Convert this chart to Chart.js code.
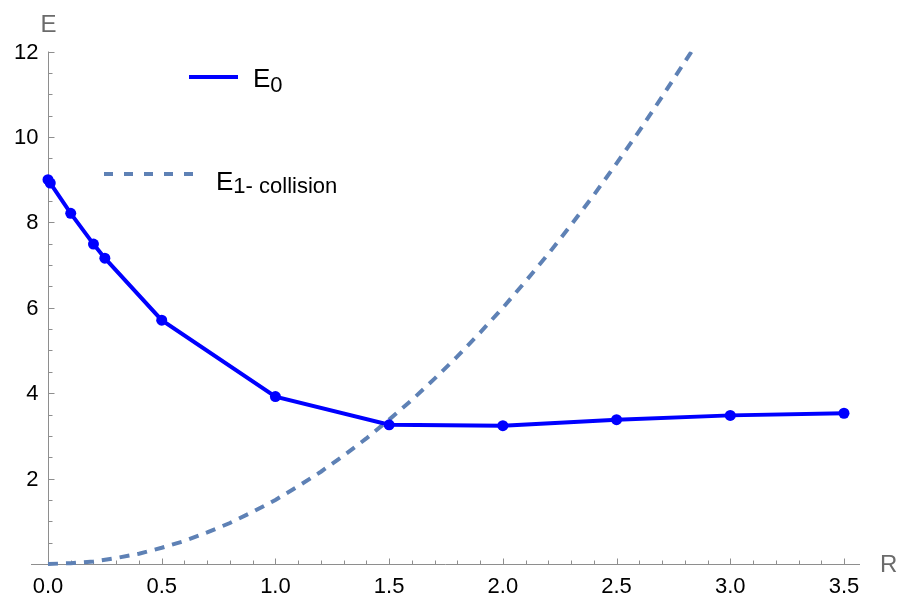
<!DOCTYPE html>
<html><head><meta charset="utf-8">
<style>html,body{margin:0;padding:0;background:#fff}canvas{display:block}</style>
<script src="https://cdn.jsdelivr.net/npm/chart.js@4/dist/chart.umd.min.js"></script>
</head><body>
<canvas id="c" width="898" height="599" style="width:898px;height:599px"></canvas>
<script>
// ---- data ----
const rE0 = [0, 0.01, 0.1, 0.2, 0.25, 0.5, 1.0, 1.5, 2.0, 2.5, 3.0, 3.5];
const e0  = [9.0, 8.92, 8.21, 7.49, 7.16, 5.71, 3.92, 3.26, 3.24, 3.38, 3.48, 3.53];
const rE1 = [0, 0.1, 0.2, 0.3, 0.4, 0.5, 0.6, 0.7, 0.8, 0.9, 1.0, 1.1, 1.2, 1.3, 1.4, 1.5, 1.6, 1.7, 1.8, 1.9, 2.0, 2.1, 2.2, 2.3, 2.4, 2.5, 2.6, 2.7, 2.8, 2.83];
const e1  = [0, 0.02, 0.06, 0.14, 0.24, 0.38, 0.54, 0.74, 0.96, 1.22, 1.5, 1.82, 2.16, 2.54, 2.94, 3.38, 3.84, 4.34, 4.86, 5.42, 6.0, 6.62, 7.26, 7.94, 8.64, 9.38, 10.14, 10.94, 11.76, 12.0];
const xMajorTicks = [0, 0.5, 1.0, 1.5, 2.0, 2.5, 3.0, 3.5];
const xTickLabels = ["0.0", "0.5", "1.0", "1.5", "2.0", "2.5", "3.0", "3.5"];
const xMinorTicks = [0.1,0.2,0.3,0.4,0.6,0.7,0.8,0.9,1.1,1.2,1.3,1.4,1.6,1.7,1.8,1.9,2.1,2.2,2.3,2.4,2.6,2.7,2.8,2.9,3.1,3.2,3.3,3.4];
const yMajorTicks = [2, 4, 6, 8, 10, 12];
const yTickLabels = ["2", "4", "6", "8", "10", "12"];
const yMinorTicks = [0.5,1,1.5,2.5,3,3.5,4.5,5,5.5,6.5,7,7.5,8.5,9,9.5,10.5,11,11.5];
const seriesNames = ["E", "0", "E", "1- collision"];
const axisNames = ["R", "E"];

const BLUE = '#0000ff', STEEL = '#5e81b5', AXIS = '#8e8e8e', LABEL = '#6b6b6b';
const FONT = '"Liberation Sans", Arial, sans-serif';

const axesPlugin = {
  id: 'mmaAxes',
  beforeDatasetsDraw(chart) {
    const ctx = chart.ctx, xs = chart.scales.x, ys = chart.scales.y, ca = chart.chartArea;
    const x0 = Math.round(xs.getPixelForValue(0)) + 0.5;
    const y0 = Math.round(ys.getPixelForValue(0)) + 0.5;
    ctx.save();
    ctx.strokeStyle = AXIS; ctx.lineWidth = 1;
    ctx.beginPath();
    ctx.moveTo(ca.left, y0); ctx.lineTo(ca.right, y0);
    ctx.moveTo(x0, ys.getPixelForValue(12)); ctx.lineTo(x0, y0);
    ctx.stroke();
    ctx.beginPath();
    xMajorTicks.forEach(v => { const p = Math.round(xs.getPixelForValue(v)) + 0.5; ctx.moveTo(p, y0); ctx.lineTo(p, y0 - 6); });
    xMinorTicks.forEach(v => { const p = Math.round(xs.getPixelForValue(v)) + 0.5; ctx.moveTo(p, y0); ctx.lineTo(p, y0 - 4); });
    yMajorTicks.forEach(v => { const p = Math.round(ys.getPixelForValue(v)) + 0.5; ctx.moveTo(x0, p); ctx.lineTo(x0 + 6, p); });
    yMinorTicks.forEach(v => { const p = Math.round(ys.getPixelForValue(v)) + 0.5; ctx.moveTo(x0, p); ctx.lineTo(x0 + 4, p); });
    ctx.stroke();
    // tick labels
    ctx.fillStyle = '#000';
    ctx.font = '22px ' + FONT;
    ctx.textAlign = 'center'; ctx.textBaseline = 'alphabetic';
    xMajorTicks.forEach((v, i) => ctx.fillText(xTickLabels[i], xs.getPixelForValue(v), y0 + 28));
    ctx.textAlign = 'right'; ctx.textBaseline = 'middle';
    yMajorTicks.forEach((v, i) => ctx.fillText(yTickLabels[i], x0 - 10, ys.getPixelForValue(v) + 1));
    // axis names
    ctx.fillStyle = LABEL;
    ctx.font = '24px ' + FONT;
    ctx.textAlign = 'left'; ctx.textBaseline = 'middle';
    ctx.fillText(axisNames[0], ca.right + 20, y0 + 1);
    ctx.textAlign = 'center'; ctx.textBaseline = 'alphabetic';
    ctx.fillText(axisNames[1], x0, 32);
    ctx.restore();
  },
  afterDraw(chart) {
    const ctx = chart.ctx;
    ctx.save();
    // E0 legend
    ctx.strokeStyle = BLUE; ctx.lineWidth = 4; ctx.setLineDash([]);
    ctx.beginPath(); ctx.moveTo(189, 77); ctx.lineTo(238, 77); ctx.stroke();
    ctx.fillStyle = '#000'; ctx.textAlign = 'left'; ctx.textBaseline = 'alphabetic';
    ctx.font = '26px ' + FONT;
    ctx.fillText(seriesNames[0], 253, 87);
    let w = ctx.measureText(seriesNames[0]).width;
    ctx.font = '22px ' + FONT;
    ctx.fillText(seriesNames[1], 253 + w, 92);
    // E1 legend
    ctx.strokeStyle = STEEL; ctx.lineWidth = 4; ctx.setLineDash([9, 11]);
    ctx.beginPath(); ctx.moveTo(104, 174); ctx.lineTo(193, 174); ctx.stroke();
    ctx.setLineDash([]);
    ctx.font = '26px ' + FONT;
    ctx.fillText(seriesNames[2], 216, 190);
    w = ctx.measureText(seriesNames[2]).width;
    ctx.font = '22px ' + FONT;
    ctx.fillText(seriesNames[3], 216 + w, 193);
    ctx.restore();
  }
};

new Chart(document.getElementById('c'), {
  type: 'scatter',
  data: {
    datasets: [
      {
        label: 'E1',
        data: rE1.map((r, i) => ({ x: r, y: e1[i] })),
        showLine: true, borderColor: STEEL, borderWidth: 4, borderDash: [10, 8],
        pointRadius: 0, pointHoverRadius: 0, tension: 0,
        clip: { left: 10, top: 0, right: 0, bottom: 10 }, order: 2
      },
      {
        label: 'E0',
        data: rE0.map((r, i) => ({ x: r, y: e0[i] })),
        showLine: true, borderColor: BLUE, borderWidth: 4,
        pointRadius: 5.5, pointBackgroundColor: BLUE, pointBorderWidth: 0, pointHoverRadius: 5.5,
        tension: 0, clip: false, order: 1
      }
    ]
  },
  options: {
    responsive: false, animation: false, devicePixelRatio: 1,
    layout: { padding: { left: 31, right: 38, top: 51.5, bottom: 35 } },
    plugins: { legend: { display: false }, tooltip: { enabled: false } },
    events: [],
    scales: {
      x: { type: 'linear', min: -0.0747, max: 3.5704, display: false },
      y: { type: 'linear', min: 0, max: 12, display: false }
    }
  },
  plugins: [axesPlugin]
});
</script>
</body></html>
